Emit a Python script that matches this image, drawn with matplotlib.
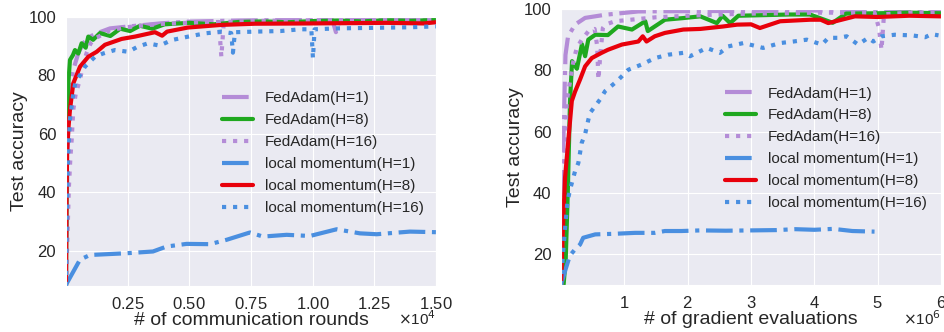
import numpy as np
import matplotlib.pyplot as plt
import seaborn as sns
from matplotlib.ticker import ScalarFormatter

sns.set_style("darkgrid")
plt.rcParams['font.family'] = ['Liberation Sans', 'DejaVu Sans']

purple = "#b48cd7"
green = "#1fa81f"
red = "#e8000b"
blue = "#4a8fe0"

# ---- left panel: x in communication rounds ----
l_fa1_x = [0, 40, 100, 162, 296, 499, 701, 973, 1245, 1784, 2461, 3811, 4893, 7000, 9000,
           10800, 10946, 11100, 13000, 15000]
l_fa1_y = [8, 40, 65, 76.2, 81.9, 87.6, 91, 93.3, 94.4, 96.1, 96.7, 97.8, 98.4, 98.8, 99,
           99, 94.8, 99, 99.1, 99.2]

l_fa8_x = [0, 40, 93, 162, 284, 365, 500, 635, 800, 905, 1100, 1378, 1800, 2200, 2600, 3000,
           3500, 4000, 5000, 6000, 7000, 8000, 9000, 10000, 11000, 12000, 13000, 14000, 15000]
l_fa8_y = [8, 60, 77, 85.3, 87, 88.7, 87.5, 91, 89.5, 93.3, 92.2, 94.5, 93.5, 96, 95.2, 97,
           96, 97.5, 98, 97.5, 98.3, 98.5, 98.2, 98.6, 98.8, 98.5, 98.9, 98.7, 99]

l_fa16_x = [0, 60, 120, 180, 231, 296, 400, 568, 700, 850, 1000, 1245, 1500, 1784, 2461, 3000,
            3811, 4893, 5500, 6200, 6300, 6400, 7500, 9000, 10000, 12000, 13500, 15000]
l_fa16_y = [8, 25, 42, 52, 57.9, 68.2, 74, 78.5, 84, 88, 91, 93, 94, 95.5, 96.5, 97,
            97.6, 98, 98.2, 98.3, 86.4, 98.3, 98.6, 98.8, 98.9, 99, 99, 99.1]

l_lm1_x = [0, 568, 973, 2461, 3527, 4082, 4893, 5838, 6514, 7459, 7986, 8946, 9892, 10974,
           11919, 12597, 13946, 15000]
l_lm1_y = [8.4, 17, 18.6, 19.2, 19.8, 21.5, 22.4, 22.3, 23.8, 26.3, 24.9, 25.5, 25.1, 27.4,
           26.0, 25.7, 26.6, 26.4]

l_lm8_x = [0, 25, 50, 100, 162, 296, 568, 904, 1245, 1581, 2258, 2800, 3608, 3900, 4100,
           4946, 6311, 7662, 9892, 11500, 13000, 14500, 15000]
l_lm8_y = [8, 40, 55, 62, 68.2, 77.3, 83, 86.4, 88.1, 90.5, 92.5, 93.3, 94.8, 93.6, 95,
           96.4, 97.3, 97.7, 97.8, 97.9, 98, 97.8, 98.2]

l_lm16_x = [0, 30, 60, 100, 162, 300, 380, 770, 1176, 1500, 1986, 2527, 2900, 3324, 3800, 4284,
            4959, 5635, 6300, 6700, 6770, 6850, 7662, 8700, 9500, 9950, 10014, 10080, 11000,
            12500, 14000, 15000]
l_lm16_y = [8, 30, 45, 55, 65, 74, 77.4, 83, 86.4, 87.5, 88.7, 88.1, 89.8, 91, 90.2, 92.1,
            93.3, 94.4, 95, 94.5, 87.8, 94.8, 95, 95.2, 95.8, 95.8, 85.9, 95.8, 96.1,
            96.3, 96.5, 96.8]

# ---- right panel: x in millions of gradient evaluations ----
r_fa1_x = [0, 0.02, 0.04, 0.07, 0.11, 0.22, 0.38, 0.69, 1.22, 2.0, 3.0, 4.0, 5.0, 6.0]
r_fa1_y = [10, 30, 60, 85, 91, 94.9, 97.1, 98.1, 99.2, 99.3, 99.4, 99.5, 99.5, 99.5]

r_fa8_x = [0.04, 0.074, 0.106, 0.142, 0.174, 0.25, 0.33, 0.38, 0.43, 0.54, 0.74, 0.9, 1.12,
           1.33, 1.37, 1.64, 1.91, 2.2, 2.46, 2.55, 2.67, 2.8, 3.2, 3.6, 3.93, 4.29, 4.5,
           5.0, 5.5, 6.0]
r_fa8_y = [10, 18.5, 40, 70, 83, 80.5, 88.5, 84.6, 90, 91.6, 91.5, 94.3, 93.3, 96, 92.8,
           96.5, 97, 97.6, 95.4, 97.8, 95.4, 97.8, 98, 98.2, 98.2, 95.5, 98.5, 98.6, 98.8, 98.6]

r_fa16_x = [0, 0.03, 0.06, 0.09, 0.142, 0.194, 0.248, 0.327, 0.431, 0.53, 0.57, 0.59, 0.62,
            0.66, 0.7, 0.85, 1.1, 1.5, 2.0, 2.5, 3.0, 3.5, 4.0, 4.5, 4.95, 5.02, 5.06, 5.1,
            5.5, 6.0]
r_fa16_y = [10, 30, 50, 69.9, 76.4, 82.9, 87.3, 90, 92.7, 93.5, 88, 77, 85, 93.8, 94.9, 96,
            96.5, 97.3, 97.8, 98.2, 98.5, 98.6, 98.8, 98.8, 98.8, 93.8, 86.7, 98.3, 98.8, 99.0]

r_lm1_x = [0, 0.07, 0.14, 0.22, 0.3, 0.35, 0.54, 0.85, 1.17, 1.48, 1.64, 1.9, 2.2, 2.6, 3.0,
           3.4, 3.7, 4.0, 4.3, 4.6, 4.95]
r_lm1_y = [10, 15, 19.6, 21.6, 23.2, 25.4, 26.5, 26.7, 27, 27, 27.6, 27.6, 27.8, 27.7, 27.8,
           27.9, 28.2, 28.0, 28.3, 27.6, 27.4]

r_lm8_x = [0.0, 0.036, 0.063, 0.17, 0.22, 0.3, 0.38, 0.485, 0.64, 0.74, 0.96, 1.22, 1.29,
           1.35, 1.48, 1.64, 1.93, 2.2, 2.56, 2.78, 3.0, 3.14, 3.46, 3.93, 4.1, 4.22, 4.64,
           5.0, 5.5, 6.0]
r_lm8_y = [10, 32, 45, 70, 73, 77, 81.3, 84, 85.7, 86.7, 88.4, 89.4, 91.1, 89.4, 91.1, 92.2,
           93.3, 93.5, 94.3, 94.9, 95, 93.8, 96, 96.5, 96.5, 95.4, 97.6, 97.4, 97.8, 97.6]

r_lm16_x = [0, 0.03, 0.07, 0.1, 0.142, 0.221, 0.273, 0.3, 0.327, 0.379, 0.431, 0.458, 0.537,
            0.616, 0.695, 0.88, 1.063, 1.274, 1.484, 1.694, 1.931, 2.037, 2.3, 2.51, 2.64,
            2.88, 2.98, 3.19, 3.46, 3.67, 3.88, 4.12, 4.22, 4.38, 4.51, 4.69, 4.85, 4.93,
            5.06, 5.27, 5.54, 5.75, 5.85, 5.96]
r_lm16_y = [10, 20, 30, 37, 41.1, 47.1, 49.8, 53.1, 56.4, 59.1, 63.9, 66.1, 68.3, 70.5, 73.2,
            76.4, 80.2, 81.9, 84, 85.1, 85.7, 84.6, 87.3, 85.7, 87.8, 88.9, 88.4, 87.3, 88.9,
            89.4, 90, 88.4, 90.6, 90.6, 91.1, 88.4, 90.6, 89.4, 91.1, 91.6, 91.4, 90.8,
            91.8, 91.4]

labels = ["FedAdam(H=1)", "FedAdam(H=8)", "FedAdam(H=16)",
          "local momentum(H=1)", "local momentum(H=8)", "local momentum(H=16)"]
colors = [purple, green, purple, blue, red, blue]
styles = ["-.", "-", ":", "-.", "-", ":"]

fig = plt.figure(figsize=(9.45, 3.32), dpi=100)
ax1 = fig.add_axes([0.0698, 0.1386, 0.3915, 0.8102])
ax2 = fig.add_axes([0.5937, 0.1416, 0.4021, 0.8313])

left = [(l_fa1_x, l_fa1_y), (l_fa8_x, l_fa8_y), (l_fa16_x, l_fa16_y),
        (l_lm1_x, l_lm1_y), (l_lm8_x, l_lm8_y), (l_lm16_x, l_lm16_y)]
right = [(r_fa1_x, r_fa1_y), (r_fa8_x, r_fa8_y), (r_fa16_x, r_fa16_y),
         (r_lm1_x, r_lm1_y), (r_lm8_x, r_lm8_y), (r_lm16_x, r_lm16_y)]

for (x, y), lab, c, ls in zip(left, labels, colors, styles):
    ax1.plot(x, y, ls, color=c, lw=3, label=lab)
for (x, y), lab, c, ls in zip(right, labels, colors, styles):
    ax2.plot(np.array(x) * 1e6, y, ls, color=c, lw=3, label=lab)

ax1.set_xlim(0, 15000)
ax1.set_ylim(8, 100)
ax1.set_xticks([2500, 5000, 7500, 10000, 12500, 15000])
ax2.set_xlim(0, 6e6)
ax2.set_ylim(10, 100)
ax2.set_xticks([1e6, 2e6, 3e6, 4e6, 5e6, 6e6])

for ax in (ax1, ax2):
    ax.set_yticks([20, 40, 60, 80, 100])
    fmt = ScalarFormatter(useMathText=True)
    fmt.set_powerlimits((0, 0))
    ax.xaxis.set_major_formatter(fmt)
    ax.xaxis.get_offset_text().set_visible(False)
    ax.tick_params(labelsize=12, colors=".15")
    ax.set_ylabel("Test accuracy", fontsize=14, color=".15", labelpad=0)

ax1.set_xlabel("# of communication rounds", fontsize=14, color=".15", labelpad=0)
ax2.set_xlabel("# of gradient evaluations", fontsize=14, color=".15", labelpad=0)
ax1.legend(loc="center", bbox_to_anchor=(0.695, 0.494), fontsize=11, frameon=False,
           labelspacing=0.52)
ax2.legend(loc="center", bbox_to_anchor=(0.697, 0.495), fontsize=11, frameon=False,
           labelspacing=0.52)

# scale factors next to the x labels
fig.text(436 / 945, 1 - 325 / 332, r"$\times$10$^{4}$", ha="right", va="baseline",
         fontsize=11, color=".15")
fig.text(941 / 945, 1 - 325 / 332, r"$\times$10$^{6}$", ha="right", va="baseline",
         fontsize=11, color=".15")

fig.savefig("out.png", dpi=100)
